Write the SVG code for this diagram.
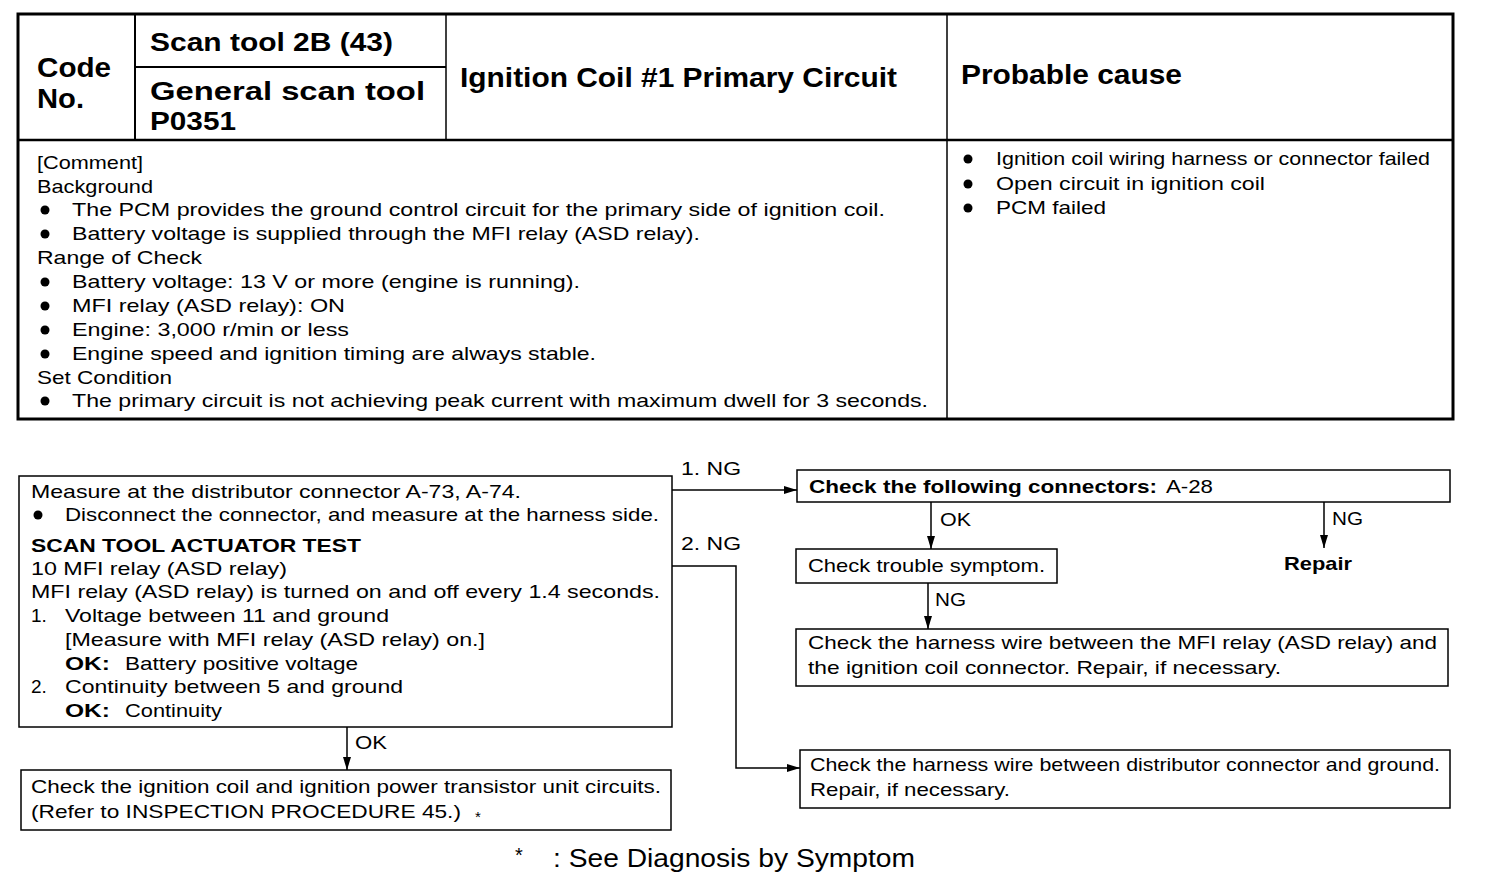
<svg xmlns="http://www.w3.org/2000/svg" width="1504" height="884" viewBox="0 0 1504 884">
<style>
text{font-family:"Liberation Sans",Arial,sans-serif;font-size:19px;fill:#000}
.b{font-weight:bold}
.h{font-size:25px;font-weight:bold}
.hc{font-size:27px;font-weight:bold}
.box{fill:#fff;stroke:#000;stroke-width:1.5}
.ln{stroke:#000;fill:none}
.con{stroke:#000;stroke-width:1.5;fill:none;marker-end:url(#arr)}
.dot{fill:#000}
</style>
<defs>
<marker id="arr" markerUnits="userSpaceOnUse" markerWidth="13" markerHeight="8" refX="13" refY="4" orient="auto">
<path d="M0,0 L13,4 L0,8 z" fill="#000"/>
</marker>
</defs>
<rect width="1504" height="884" fill="#fff"/>

<g id="header-table">
<rect x="18" y="14" width="1435" height="405" class="ln" stroke-width="3"/>
<line x1="18" y1="140" x2="1453" y2="140" class="ln" stroke-width="2.5"/>
<line x1="135" y1="14" x2="135" y2="140" class="ln" stroke-width="2"/>
<line x1="446" y1="14" x2="446" y2="140" class="ln" stroke-width="1.5"/>
<line x1="135" y1="67" x2="446" y2="67" class="ln" stroke-width="2"/>
<line x1="947" y1="14" x2="947" y2="419" class="ln" stroke-width="1.5"/>
<text class="hc" x="37" y="77" textLength="74" lengthAdjust="spacingAndGlyphs">Code</text>
<text class="hc" x="37" y="108" textLength="47" lengthAdjust="spacingAndGlyphs">No.</text>
<text class="h" x="150" y="51" textLength="243" lengthAdjust="spacingAndGlyphs">Scan tool 2B (43)</text>
<text class="h" x="150" y="100" textLength="275" lengthAdjust="spacingAndGlyphs">General  scan  tool</text>
<text class="h" x="150" y="130" textLength="86" lengthAdjust="spacingAndGlyphs">P0351</text>
<text class="hc" x="460" y="87" textLength="437" lengthAdjust="spacingAndGlyphs">Ignition Coil #1 Primary Circuit</text>
<text class="hc" x="961" y="84" textLength="221" lengthAdjust="spacingAndGlyphs">Probable cause</text>

<text x="37" y="169" textLength="106" lengthAdjust="spacingAndGlyphs">[Comment]</text>
<text x="37" y="193" textLength="116" lengthAdjust="spacingAndGlyphs">Background</text>
<circle class="dot" cx="45" cy="210" r="4.5"/>
<text x="72" y="216" textLength="813" lengthAdjust="spacingAndGlyphs">The PCM provides the ground control circuit for the primary side of ignition coil.</text>
<circle class="dot" cx="45" cy="234" r="4.5"/>
<text x="72" y="240" textLength="628" lengthAdjust="spacingAndGlyphs">Battery voltage is supplied through the MFI relay (ASD relay).</text>
<text x="37" y="264" textLength="165" lengthAdjust="spacingAndGlyphs">Range of Check</text>
<circle class="dot" cx="45" cy="282" r="4.5"/>
<text x="72" y="288" textLength="508" lengthAdjust="spacingAndGlyphs">Battery voltage: 13 V or more (engine is running).</text>
<circle class="dot" cx="45" cy="306" r="4.5"/>
<text x="72" y="312" textLength="273" lengthAdjust="spacingAndGlyphs">MFI relay (ASD relay): ON</text>
<circle class="dot" cx="45" cy="330" r="4.5"/>
<text x="72" y="336" textLength="277" lengthAdjust="spacingAndGlyphs">Engine: 3,000 r/min or less</text>
<circle class="dot" cx="45" cy="354" r="4.5"/>
<text x="72" y="360" textLength="524" lengthAdjust="spacingAndGlyphs">Engine speed and ignition timing are always stable.</text>
<text x="37" y="384" textLength="135" lengthAdjust="spacingAndGlyphs">Set Condition</text>
<circle class="dot" cx="45" cy="401" r="4.5"/>
<text x="72" y="407" textLength="856" lengthAdjust="spacingAndGlyphs">The primary circuit is not achieving peak current with maximum dwell for 3 seconds.</text>

<circle class="dot" cx="968" cy="159" r="4.5"/>
<text x="996" y="165" textLength="434" lengthAdjust="spacingAndGlyphs">Ignition coil wiring harness or connector failed</text>
<circle class="dot" cx="968" cy="184" r="4.5"/>
<text x="996" y="190" textLength="269" lengthAdjust="spacingAndGlyphs">Open  circuit  in  ignition  coil</text>
<circle class="dot" cx="968" cy="208" r="4.5"/>
<text x="996" y="214" textLength="110" lengthAdjust="spacingAndGlyphs">PCM  failed</text>
</g>

<g id="connectors">
<path class="con" d="M672,490 H797"/>
<path class="con" d="M672,566 H736 V768 H800"/>
<path class="con" d="M347,727 V770"/>
<path class="con" d="M931,502 V549"/>
<path class="con" d="M1324,502 V548"/>
<path class="con" d="M928,583 V629"/>
<text x="681" y="475" textLength="60" lengthAdjust="spacingAndGlyphs">1. NG</text>
<text x="681" y="550" textLength="60" lengthAdjust="spacingAndGlyphs">2. NG</text>
<text x="355" y="749" textLength="32" lengthAdjust="spacingAndGlyphs">OK</text>
<text x="940" y="526" textLength="31" lengthAdjust="spacingAndGlyphs">OK</text>
<text x="1332" y="525" textLength="31" lengthAdjust="spacingAndGlyphs">NG</text>
<text x="935" y="606" textLength="31" lengthAdjust="spacingAndGlyphs">NG</text>
</g>

<g id="node-measure">
<rect class="box" x="19" y="476" width="653" height="251"/>
<text x="31" y="498" textLength="490" lengthAdjust="spacingAndGlyphs">Measure at the distributor connector A-73, A-74.</text>
<circle class="dot" cx="38" cy="515" r="4.5"/>
<text x="65" y="521" textLength="594" lengthAdjust="spacingAndGlyphs">Disconnect the connector, and measure at the harness side.</text>
<text class="b" x="31" y="552" textLength="330" lengthAdjust="spacingAndGlyphs">SCAN TOOL ACTUATOR TEST</text>
<text x="31" y="575" textLength="256" lengthAdjust="spacingAndGlyphs">10 MFI relay (ASD relay)</text>
<text x="31" y="598" textLength="629" lengthAdjust="spacingAndGlyphs">MFI relay (ASD relay) is turned on and off every 1.4 seconds.</text>
<text x="31" y="622">1.</text>
<text x="65" y="622" textLength="324" lengthAdjust="spacingAndGlyphs">Voltage between 11 and ground</text>
<text x="65" y="646" textLength="420" lengthAdjust="spacingAndGlyphs">[Measure with MFI relay (ASD relay) on.]</text>
<text class="b" x="65" y="670" textLength="45" lengthAdjust="spacingAndGlyphs">OK:</text>
<text x="125" y="670" textLength="233" lengthAdjust="spacingAndGlyphs">Battery positive voltage</text>
<text x="31" y="693">2.</text>
<text x="65" y="693" textLength="338" lengthAdjust="spacingAndGlyphs">Continuity between 5 and ground</text>
<text class="b" x="65" y="717" textLength="45" lengthAdjust="spacingAndGlyphs">OK:</text>
<text x="125" y="717" textLength="97" lengthAdjust="spacingAndGlyphs">Continuity</text>
</g>

<g id="node-ignition-check">
<rect class="box" x="21" y="770" width="650" height="60"/>
<text x="31" y="793" textLength="630" lengthAdjust="spacingAndGlyphs">Check the ignition coil and ignition power transistor unit circuits.</text>
<text x="31" y="818" textLength="430" lengthAdjust="spacingAndGlyphs">(Refer to INSPECTION PROCEDURE 45.)</text>
<text x="475" y="822" style="font-size:15px">*</text>
</g>

<g id="node-connectors">
<rect class="box" x="797" y="470" width="653" height="32"/>
<text class="b" x="809" y="493" textLength="348" lengthAdjust="spacingAndGlyphs">Check the following connectors:</text>
<text x="1166" y="493" textLength="47" lengthAdjust="spacingAndGlyphs">A-28</text>
</g>

<g id="node-repair">
<text class="b" x="1284" y="570" textLength="68" lengthAdjust="spacingAndGlyphs">Repair</text>
</g>

<g id="node-trouble">
<rect class="box" x="796" y="549" width="261" height="34"/>
<text x="808" y="572" textLength="237" lengthAdjust="spacingAndGlyphs">Check trouble symptom.</text>
</g>

<g id="node-harness-mfi">
<rect class="box" x="796" y="629" width="652" height="57"/>
<text x="808" y="649" textLength="629" lengthAdjust="spacingAndGlyphs">Check the harness wire between the MFI relay (ASD relay) and</text>
<text x="808" y="674" textLength="473" lengthAdjust="spacingAndGlyphs">the ignition coil connector. Repair, if necessary.</text>
</g>

<g id="node-harness-ground">
<rect class="box" x="800" y="750" width="650" height="58"/>
<text x="810" y="771" textLength="630" lengthAdjust="spacingAndGlyphs">Check the harness wire between distributor connector and ground.</text>
<text x="810" y="796" textLength="200" lengthAdjust="spacingAndGlyphs">Repair,  if  necessary.</text>
</g>

<g id="footnote">
<text x="515" y="862" style="font-size:20px">*</text>
<text x="553" y="867" style="font-size:25px" textLength="362" lengthAdjust="spacingAndGlyphs">: See Diagnosis by Symptom</text>
</g>
</svg>
